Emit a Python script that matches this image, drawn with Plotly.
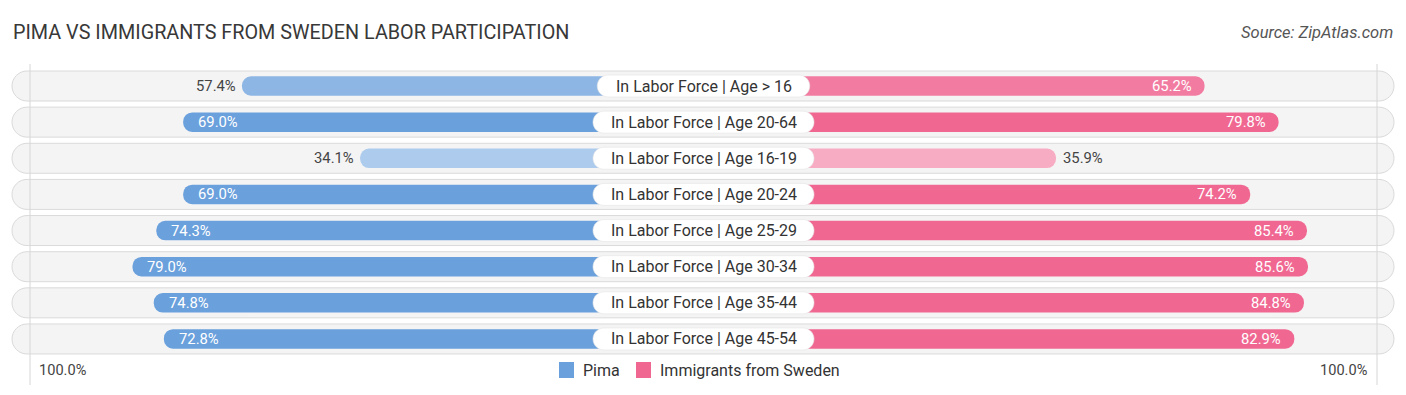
import plotly.graph_objects as go

# ---------------- data ----------------
categories = [
    "In Labor Force | Age > 16",
    "In Labor Force | Age 20-64",
    "In Labor Force | Age 16-19",
    "In Labor Force | Age 20-24",
    "In Labor Force | Age 25-29",
    "In Labor Force | Age 30-34",
    "In Labor Force | Age 35-44",
    "In Labor Force | Age 45-54",
]
pima = [57.4, 69.0, 34.1, 69.0, 74.3, 79.0, 74.8, 72.8]
sweden = [65.2, 79.8, 35.9, 74.2, 85.4, 85.6, 84.8, 82.9]
series_names = ["Pima", "Immigrants from Sweden"]
title_text = "PIMA VS IMMIGRANTS FROM SWEDEN LABOR PARTICIPATION"
source_text = "Source: ZipAtlas.com"
axis_label = "100.0%"

# ---------------- layout constants ----------------
PAGE_W, PAGE_H = 1406, 395
BODY = 8                          # default page body margin
W, H = PAGE_W - BODY, PAGE_H - BODY
CX = 703.5 - BODY                 # pixel centre (figure coords)
KX = 5.07                         # px per percent
OFFSET = 170.5 / KX               # gap from centre to bar start of scale
ROW0 = 86.0 - BODY                # px y of first row centre
KY = 36.14                        # px per row
FONT = "Roboto"

PIMA_FULL = (106, 160, 220)
SWE_FULL = (240, 104, 146)


def shade(rgb, v):
    if v >= 68:
        m = 0.0
    else:
        m = min(0.45, (68 - v) * 0.0125 + 0.1)
    r, g, b = [round(c + (255 - c) * m) for c in rgb]
    return f"rgb({r},{g},{b})"


def px_to_x(px):   # page px -> x units
    return (px - BODY - CX) / KX


def py_to_y(py):   # page px -> y units
    return (py - BODY - ROW0) / KY


def pxp(px):       # page px -> paper x
    return (px - BODY) / W


def pyp(py):       # page px -> paper y
    return 1 - (py - BODY) / H


def pill(cx, cy, wpx, hpx):
    rx = (hpx / 2) / KX
    ry = (hpx / 2) / KY
    hw = (wpx / 2) / KX
    x0, x1 = cx - hw, cx + hw
    k = 0.5523
    t, b = cy - ry, cy + ry
    return (
        f"M {x0+rx},{t} L {x1-rx},{t} "
        f"C {x1-rx+k*rx},{t} {x1},{cy-k*ry} {x1},{cy} "
        f"C {x1},{cy+k*ry} {x1-rx+k*rx},{b} {x1-rx},{b} "
        f"L {x0+rx},{b} "
        f"C {x0+rx-k*rx},{b} {x0},{cy+k*ry} {x0},{cy} "
        f"C {x0},{cy-k*ry} {x0+rx-k*rx},{t} {x0+rx},{t} Z"
    )


n = len(categories)
idx = list(range(n))

fig = go.Figure()
fig.add_trace(go.Bar(
    y=idx, x=[-(OFFSET + v) for v in pima], base=0, orientation="h",
    marker=dict(color=[shade(PIMA_FULL, v) for v in pima], cornerradius=10, line=dict(width=0)),
    width=0.54, name=series_names[0], showlegend=False, hoverinfo="skip",
))
fig.add_trace(go.Bar(
    y=idx, x=[OFFSET + v for v in sweden], base=0, orientation="h",
    marker=dict(color=[shade(SWE_FULL, v) for v in sweden], cornerradius=10, line=dict(width=0)),
    width=0.54, name=series_names[1], showlegend=False, hoverinfo="skip",
))

shapes = []
annotations = []

# row backgrounds
for i in idx:
    shapes.append(dict(
        type="path", path=pill(px_to_x((12 + 1394) / 2), i, 1382, 30),
        xref="x", yref="y", fillcolor="#f4f4f4",
        line=dict(color="#dadada", width=1), layer="below",
    ))

# vertical guide lines
for xp in (30, 1377):
    shapes.append(dict(
        type="line", xref="x", yref="y",
        x0=px_to_x(xp), x1=px_to_x(xp), y0=py_to_y(64), y1=py_to_y(385),
        line=dict(color="#d6d6d6", width=1), layer="below",
    ))

# category pills + labels
for i, c in enumerate(categories):
    wpx = 8.5 * len(c)
    shapes.append(dict(
        type="path", path=pill(px_to_x(703.5), i, wpx, 22),
        xref="x", yref="y", fillcolor="#ffffff",
        line=dict(color="#e4e4e4", width=0.6), layer="above",
    ))
    annotations.append(dict(
        x=px_to_x(703.5), y=i, xref="x", yref="y", text=c, showarrow=False,
        font=dict(family=FONT, size=16, color="#333333"),
        xanchor="center", yanchor="middle",
    ))

VAL_SIZE = 14.8
for i in idx:
    v = pima[i]
    end = -(OFFSET + v)
    if v > 60:
        annotations.append(dict(x=end, y=i, xref="x", yref="y", text=f"{v:.1f}%",
                                showarrow=False, xanchor="left", xshift=13,
                                font=dict(family=FONT, size=VAL_SIZE, color="#ffffff")))
    else:
        annotations.append(dict(x=end, y=i, xref="x", yref="y", text=f"{v:.1f}%",
                                showarrow=False, xanchor="right", xshift=-4,
                                font=dict(family=FONT, size=VAL_SIZE, color="#444444")))
    v = sweden[i]
    end = OFFSET + v
    if v > 60:
        annotations.append(dict(x=end, y=i, xref="x", yref="y", text=f"{v:.1f}%",
                                showarrow=False, xanchor="right", xshift=-11,
                                font=dict(family=FONT, size=VAL_SIZE, color="#ffffff")))
    else:
        annotations.append(dict(x=end, y=i, xref="x", yref="y", text=f"{v:.1f}%",
                                showarrow=False, xanchor="left", xshift=5,
                                font=dict(family=FONT, size=VAL_SIZE, color="#444444")))

# title & source
annotations.append(dict(x=pxp(11), y=pyp(33), xref="paper", yref="paper", text=title_text,
                        showarrow=False, xanchor="left", yanchor="middle",
                        font=dict(family=FONT, size=19.8, color="#383838")))
annotations.append(dict(x=pxp(1395), y=pyp(33), xref="paper", yref="paper", text=f"<i>{source_text}</i>",
                        showarrow=False, xanchor="right", yanchor="middle",
                        font=dict(family=FONT, size=16.5, color="#555555")))

# axis end labels
annotations.append(dict(x=pxp(37), y=pyp(370), xref="paper", yref="paper", text=axis_label,
                        showarrow=False, xanchor="left", yanchor="middle",
                        font=dict(family=FONT, size=14.6, color="#444444")))
annotations.append(dict(x=pxp(1370), y=pyp(370), xref="paper", yref="paper", text=axis_label,
                        showarrow=False, xanchor="right", yanchor="middle",
                        font=dict(family=FONT, size=14.6, color="#444444")))

# custom legend
legend_items = [(559, PIMA_FULL, series_names[0]), (636, SWE_FULL, series_names[1])]
for xp, rgb, name in legend_items:
    shapes.append(dict(
        type="rect", xref="paper", yref="paper",
        x0=pxp(xp), x1=pxp(xp + 15), y0=pyp(378), y1=pyp(362),
        fillcolor=f"rgb{rgb}", line=dict(width=0),
    ))
    annotations.append(dict(x=pxp(xp + 22), y=pyp(370), xref="paper", yref="paper", text=name,
                            showarrow=False, xanchor="left", yanchor="middle",
                            font=dict(family=FONT, size=16, color="#333333")))

fig.update_layout(
    width=W, height=H,
    margin=dict(l=0, r=0, t=0, b=0),
    paper_bgcolor="white", plot_bgcolor="white",
    barmode="overlay",
    xaxis=dict(range=[(0 - CX) / KX, (W - CX) / KX], visible=False, fixedrange=True),
    yaxis=dict(range=[(H - ROW0) / KY, (0 - ROW0) / KY], visible=False, fixedrange=True),
    shapes=shapes, annotations=annotations,
    showlegend=False,
)

fig.write_html("out.html", config={"displayModeBar": False})
